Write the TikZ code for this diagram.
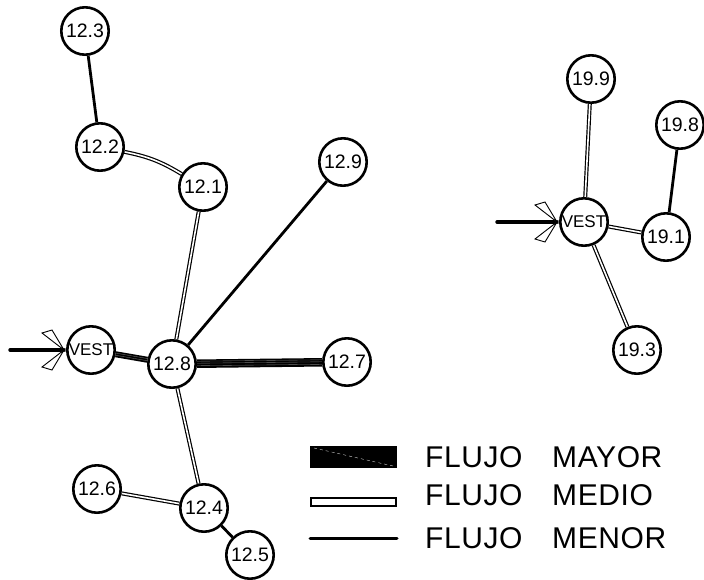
\documentclass[tikz,border=0pt]{standalone}
\usepackage{fontspec}
\usetikzlibrary{backgrounds}
\setmainfont{Liberation Sans}
\newfontfamily\thinfont{Liberation Sans}[LetterSpace=2]
\begin{document}
\begin{tikzpicture}[x=1pt,y=-1pt,
  nd/.style={circle,draw,line width=2.6pt,fill=white,minimum size=47.4pt,inner sep=0pt,font=\fontsize{19.5}{19.5}\selectfont},
  vst/.style={nd,font=\fontsize{17}{17}\selectfont},
  menor/.style={line width=2.8pt},
  medio/.style={double,double distance=1.6pt,line width=1.2pt},
  mayor/.style={line width=#1,black},
  streak/.style={line width=0.35pt,white,opacity=0.45},
  barb/.style={line width=0.9pt,fill=white,line join=miter},
  lbl/.style={anchor=base west,inner sep=0pt,font=\thinfont\fontsize{30}{30}\selectfont}]
\useasboundingbox (0,0) rectangle (704,579);
% nodes
\node[nd] (n123) at (85,31) {12.3};
\node[nd] (n122) at (100,147) {12.2};
\node[nd] (n121) at (203,187) {12.1};
\node[nd] (n129) at (343,162) {12.9};
\node[vst] (vL) at (91,350) {VEST};
\node[nd] (n128) at (172,364) {12.8};
\node[nd] (n127) at (347,362) {12.7};
\node[nd] (n126) at (97,489) {12.6};
\node[nd] (n124) at (204,508) {12.4};
\node[nd] (n125) at (250,555) {12.5};
\node[nd] (n199) at (591,79) {19.9};
\node[nd] (n198) at (680,125) {19.8};
\node[vst] (vR) at (584,222) {VEST};
\node[nd] (n191) at (666,237) {19.1};
\node[nd] (n193) at (637,350) {19.3};
% edges
\begin{pgfonlayer}{background}
\draw[menor] (n123) -- (n122);
\draw[medio] (n122) to[bend left=10] (n121);
\draw[medio] (n121) -- (n128);
\draw[menor] (n129) -- (n128);
\draw[mayor=6pt] (vL) -- (n128);
\draw[streak] ([yshift=-1pt]vL.center) -- ([yshift=-1pt]n128.center);
\draw[streak] ([yshift=1.2pt]vL.center) -- ([yshift=1.2pt]n128.center);
\draw[mayor=8.5pt] (n128) -- (n127);
\draw[streak] ([yshift=-2pt]n128.center) -- ([yshift=-2pt]n127.center);
\draw[streak] ([yshift=0.5pt]n128.center) -- ([yshift=0.5pt]n127.center);
\draw[streak] ([yshift=2.5pt]n128.center) -- ([yshift=2.5pt]n127.center);
\draw[medio] (n128) -- (n124);
\draw[medio] (n126) -- (n124);
\draw[menor] (n124) -- (n125);
\draw[medio] (n199) -- (vR);
\draw[medio] (vR) -- (n191);
\draw[menor] (n198) -- (n191);
\draw[medio] (vR) -- (n193);
\end{pgfonlayer}
% entry arrows
\coordinate (tL) at ([xshift=-2pt]vL.west);
\coordinate (sL) at (10,350);
\draw[line width=3.4pt,line cap=round] (sL) -- (tL);
\draw[barb] (tL) -- ++(-22,-17) -- ++(10,-3) -- cycle;
\draw[barb] (tL) -- ++(-22,17) -- ++(10,3) -- cycle;
\coordinate (tR) at ([xshift=-2pt]vR.west);
\coordinate (sR) at (497,222);
\draw[line width=3.4pt,line cap=round] (sR) -- (tR);
\draw[barb] (tR) -- ++(-22,-17) -- ++(10,-3) -- cycle;
\draw[barb] (tR) -- ++(-22,17) -- ++(10,3) -- cycle;
% legend
\fill (310,446) rectangle (397,468);
\draw[white,line width=0.3pt,dashed] (314,448) -- (393,466);
\draw[line width=1.1pt] (311,498) rectangle (396,506);
\draw[line width=3pt,line cap=round] (310,538) -- (397,538);
\node[lbl] (l1a) at (425,467) {FLUJO};
\node[lbl] (l1b) at (552,467) {MAYOR};
\node[lbl] (l2a) at (425,505) {FLUJO};
\node[lbl] (l2b) at (552,505) {MEDIO};
\node[lbl] (l3a) at (425,548) {FLUJO};
\node[lbl] (l3b) at (552,548) {MENOR};
\end{tikzpicture}
\end{document}
